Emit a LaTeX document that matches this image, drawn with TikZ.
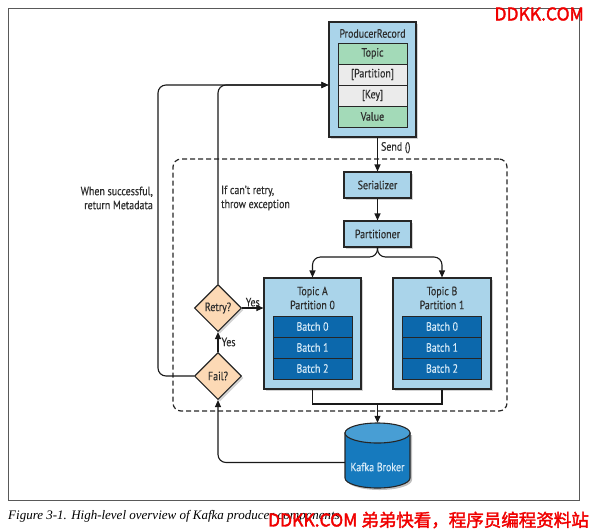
\documentclass[tikz,border=0pt]{standalone}
\usepackage{fontspec}
\setmainfont{PT Sans}[FakeStretch=0.83, FakeBold=0.4]
\newfontfamily\capfont{Liberation Serif}
\newfontfamily\wmfont{Noto Sans CJK SC}[FakeBold=2]
\usetikzlibrary{arrows.meta,shapes.geometric,shadows}
\definecolor{lblue}{RGB}{170,212,234}
\definecolor{mint}{RGB}{163,218,184}
\definecolor{lgray}{RGB}{235,235,235}
\definecolor{dblue}{RGB}{12,104,172}
\definecolor{bwhite}{RGB}{215,235,248}
\definecolor{peach}{RGB}{252,217,181}
\definecolor{brbody}{RGB}{22,122,190}
\definecolor{brtop}{RGB}{72,158,212}
\definecolor{txt}{RGB}{45,45,45}
\definecolor{wmred}{RGB}{240,0,0}
\tikzset{
  box/.style={draw=black!85, line width=1.1pt, fill=lblue, inner sep=0pt,
    drop shadow={opacity=0.35, shadow xshift=2pt, shadow yshift=-2pt}},
  rowbox/.style={draw=black!85, line width=0.9pt, inner sep=0pt,
    minimum width=69pt, minimum height=21pt, text=txt},
  batchbox/.style={draw=black!85, line width=0.9pt, inner sep=0pt, fill=dblue,
    minimum width=79pt, minimum height=21pt, text=bwhite},
  dec/.style={diamond, draw=black!85, line width=1.1pt, fill=peach, inner sep=0pt,
    minimum width=47pt, minimum height=47pt, text=txt,
    drop shadow={opacity=0.35, shadow xshift=2pt, shadow yshift=-2pt}},
  conn/.style={draw=black!90, line width=1.1pt},
  arr/.style={conn, -{Triangle[length=7pt,width=6pt]}},
  lbl/.style={text=txt, inner sep=0pt, align=center},
  cyl/.style={draw=black!85, line width=1.1pt},
}
\begin{document}
\begin{tikzpicture}[x=1pt,y=-1pt, font=\fontsize{12}{14}\selectfont]
\useasboundingbox (0,0) rectangle (591,531);
% frame
\draw[black!65, line width=0.9pt] (8,8) rectangle (579,500);

% dashed producer boundary
\node[draw=black!85, line width=1.2pt, dash pattern=on 5pt off 3pt, rounded corners=8pt,
  minimum width=334pt, minimum height=252pt, inner sep=0pt] (prod) at (340,285) {};

% ProducerRecord
\node[box, minimum width=87pt, minimum height=115pt] (pr) at (372.5,79.5) {};
\node[lbl] (prt) at (372.5,33.5) {ProducerRecord};
\node[rowbox, fill=mint] (topic) at (372.5,53.5) {Topic};
\node[rowbox, fill=lgray] (part0) at (372.5,74.5) {[Partition]};
\node[rowbox, fill=lgray] (key) at (372.5,95.5) {[Key]};
\node[rowbox, fill=mint] (value) at (372.5,116.5) {Value};
\coordinate (prin) at ([yshift=-5.5pt]pr.west);

% Serializer / Partitioner
\node[box, minimum width=67pt, minimum height=26pt, text=txt] (ser) at (377.5,185) {Serializer};
\node[box, minimum width=67pt, minimum height=26pt, text=txt] (part) at (377.5,234) {Partitioner};

% Topic partitions
\node[box, minimum width=97pt, minimum height=111pt] (ta) at (312.5,333.5) {};
\node[lbl] (tat) at (312.5,298) {Topic A\\Partition 0};
\node[batchbox] (a0) at (312.5,326.5) {Batch 0};
\node[batchbox] (a1) at (312.5,347.5) {Batch 1};
\node[batchbox] (a2) at (312.5,368.5) {Batch 2};

\node[box, minimum width=98pt, minimum height=111pt] (tb) at (442,333.5) {};
\node[lbl] (tbt) at (442,298) {Topic B\\Partition 1};
\node[batchbox] (b0) at (442,326.5) {Batch 0};
\node[batchbox] (b1) at (442,347.5) {Batch 1};
\node[batchbox] (b2) at (442,368.5) {Batch 2};

% Broker (cylinder drawn by hand)
\node[minimum width=65pt, minimum height=65pt, inner sep=0pt] (broker) at (377.5,455.5) {};
\fill[black, opacity=0.25] (347,435) -- (347,480) arc[start angle=180, end angle=0, x radius=32.5, y radius=10] -- (412,435) -- cycle;
\filldraw[cyl, fill=brbody] (345,433) -- (345,478) arc[start angle=180, end angle=0, x radius=32.5, y radius=10] -- (410,433) -- cycle;
\filldraw[cyl, fill=brtop] (377.5,433) ellipse[x radius=32.5, y radius=10];
\node[lbl, text=bwhite] (brl) at (377.5,467) {Kafka Broker};

% Decisions
\node[dec] (retry) at (218,308) {Retry?};
\node[dec] (fail) at (218,376) {Fail?};

% connectors
\draw[arr] (ser.north |- pr.south) -- node[lbl, anchor=west, xshift=3pt, pos=0.3] (send) {Send ()} (ser.north);
\draw[arr] (ser.south) -- (part.north);
\coordinate (split) at (377.5,257);
\draw[arr, rounded corners=8pt] (part.south) -- (split) -| (ta.north);
\draw[arr, rounded corners=8pt] (part.south) -- (split) -| (tb.north);
\coordinate (merge) at (377.5,404);
\draw[conn] (ta.south) |- (merge) -| (tb.south);
\draw[arr] (merge) -- (broker.north);
\draw[arr, rounded corners=8pt] ([yshift=-7pt]broker.west) -| (fail.south);
\draw[arr] (fail.north) -- node[lbl, anchor=west, xshift=3pt] (yes1) {Yes} (retry.south);
\draw[arr] (retry.east) -- node[lbl, anchor=south, yshift=1pt] (yes2) {Yes} (retry.east -| ta.west);
\coordinate (lc) at (158,85);
\draw[arr, rounded corners=8pt] (fail.west) -| (lc) -- (prin);
\draw[arr, rounded corners=8pt] (retry.north) |- (prin);

% side labels
\node[lbl, anchor=east, align=right] (succ) at (153,198) {When successful,\\return Metadata};
\node[lbl, anchor=west, align=left] (exc) at (221,198) {If can't retry,\\throw exception};

% caption
\node[anchor=west, inner sep=0pt, font=\capfont\itshape\fontsize{13}{16}\selectfont] (cap) at (8,516)
  {Figure 3-1. High-level overview of Kafka producer components};

% watermarks
\node[anchor=east, inner sep=0pt, text=wmred, font=\wmfont\fontsize{17.5}{20}\selectfont] (wm1) at (584,14) {DDKK.COM};
\node[anchor=east, inner sep=0pt, text=wmred, font=\wmfont\fontsize{17.5}{20}\selectfont] (wm2) at (589,520) {DDKK.COM 弟弟快看，程序员编程资料站};
\end{tikzpicture}
\end{document}
